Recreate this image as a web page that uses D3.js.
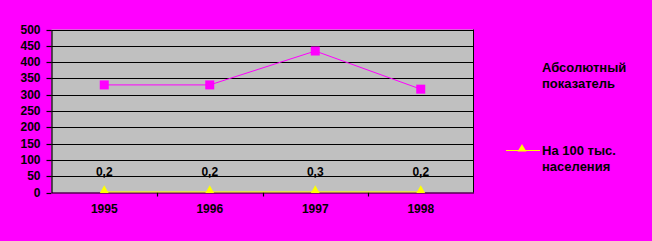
<!DOCTYPE html>
<html><head><meta charset="utf-8">
<script src="https://cdn.jsdelivr.net/npm/d3@7"></script>
<style>html,body{margin:0;padding:0;background:#ff00ff;}svg{display:block;}</style>
</head><body>
<svg id="c" width="652" height="241"></svg>
<script>
const years = ["1995","1996","1997","1998"];
const absolute = [330, 330, 434, 317];
const per100k = [0.2, 0.2, 0.3, 0.2];
const per100kLabels = ["0,2","0,2","0,3","0,2"];
const yTicks = [0,50,100,150,200,250,300,350,400,450,500];
const seriesNames = [["Абсолютный","показатель"],["На 100 тыс.","населения"]];

const svg = d3.select("#c");
const W=652,H=241;
svg.append("rect").attr("width",W).attr("height",H).attr("fill","#ff00ff");
const L=51.5, R=473.5, T=29.5, B=192.5;
const x = d3.scaleBand().domain(years).range([L,R]);
const y = d3.scaleLinear().domain([0,500]).range([B,T]);
const font = "'Liberation Sans', Arial, sans-serif";

svg.append("rect").attr("x",L).attr("y",T).attr("width",R-L).attr("height",B-T).attr("fill","#c0c0c0");
// gridlines
svg.append("g").selectAll("line").data(yTicks.slice(1)).join("line")
  .attr("x1",L).attr("x2",R).attr("y1",d=>Math.round(y(d))+0.5).attr("y2",d=>Math.round(y(d))+0.5)
  .attr("stroke","#000").attr("stroke-width",1.2);
svg.append("line").attr("x1",R).attr("x2",R).attr("y1",T).attr("y2",B).attr("stroke","#000").attr("stroke-width",1);

// y axis
const ya = svg.append("g").attr("transform",`translate(${L},0)`)
  .call(d3.axisLeft(y).tickValues(yTicks).tickSize(5).tickSizeOuter(0).tickPadding(6));
ya.select(".domain").attr("stroke","#000").attr("stroke-width",1.2);
ya.selectAll(".tick line").attr("stroke","#000").attr("stroke-width",1.2);
ya.selectAll(".tick").attr("transform",d=>`translate(0,${Math.round(y(d))+0.5})`);
ya.selectAll("text").attr("font-family",font).attr("font-weight","bold").attr("font-size","12px").attr("fill","#000");

// x axis
const xa = svg.append("g").attr("transform",`translate(0,${B})`)
  .call(d3.axisBottom(x).tickSize(0).tickSizeOuter(0).tickPadding(12));
xa.select(".domain").attr("stroke","#000").attr("stroke-width",1.2);
xa.selectAll("text").attr("font-family",font).attr("font-weight","bold").attr("font-size","12px").attr("fill","#000");
svg.append("g").selectAll("line").data(years.slice(1)).join("line")
  .attr("x1",d=>Math.round(x(d))+0.5).attr("x2",d=>Math.round(x(d))+0.5).attr("y1",B).attr("y2",B+4)
  .attr("stroke","#000").attr("stroke-width",1.2);

const cx = d => x(d)+x.bandwidth()/2;

// series 1
svg.append("path").datum(absolute).attr("fill","none").attr("stroke","#ff00ff").attr("stroke-width",1)
  .attr("d",d3.line().x((d,i)=>cx(years[i])).y(d=>y(d)));
svg.append("g").selectAll("rect").data(absolute).join("rect")
  .attr("x",(d,i)=>cx(years[i])-4.5).attr("y",d=>y(d)-4.5).attr("width",9).attr("height",9).attr("fill","#ff00ff");

// series 2
svg.append("path").datum(per100k).attr("fill","none").attr("stroke","#ffff00").attr("stroke-width",1)
  .attr("d",d3.line().x((d,i)=>cx(years[i])).y(d=>y(d)-0.5));
const tri = d3.symbol().type(d3.symbolTriangle).size(34);
svg.append("g").selectAll("path").data(per100k).join("path")
  .attr("transform",(d,i)=>`translate(${cx(years[i])},${y(d)-2})`).attr("d",tri).attr("fill","#ffff00");
svg.append("g").selectAll("text").data(per100k).join("text")
  .attr("x",(d,i)=>cx(years[i])).attr("y",d=>y(d)-16).attr("text-anchor","middle")
  .attr("font-family",font).attr("font-size","12px").attr("font-weight","bold").attr("fill","#000")
  .text((d,i)=>per100kLabels[i]);

// legend
const lg = svg.append("g");
const ly = [67, 150];
seriesNames.forEach((lines,k)=>{
  lines.forEach((t,j)=>{
    lg.append("text").attr("x",542).attr("y",ly[k]+j*16.5+4.5)
      .attr("font-family",font).attr("font-weight","bold").attr("font-size","13px").attr("fill","#000").text(t);
  });
});
lg.append("line").attr("x1",506).attr("x2",540).attr("y1",ly[0]).attr("y2",ly[0]).attr("stroke","#ff00ff");
lg.append("rect").attr("x",518).attr("y",ly[0]-4.5).attr("width",9).attr("height",9).attr("fill","#ff00ff");
lg.append("line").attr("x1",506).attr("x2",540).attr("y1",ly[1]+0.5).attr("y2",ly[1]+0.5).attr("stroke","#ffff00");
lg.append("path").attr("transform",`translate(522,${ly[1]-1})`).attr("d",tri).attr("fill","#ffff00");
</script>
</body></html>
